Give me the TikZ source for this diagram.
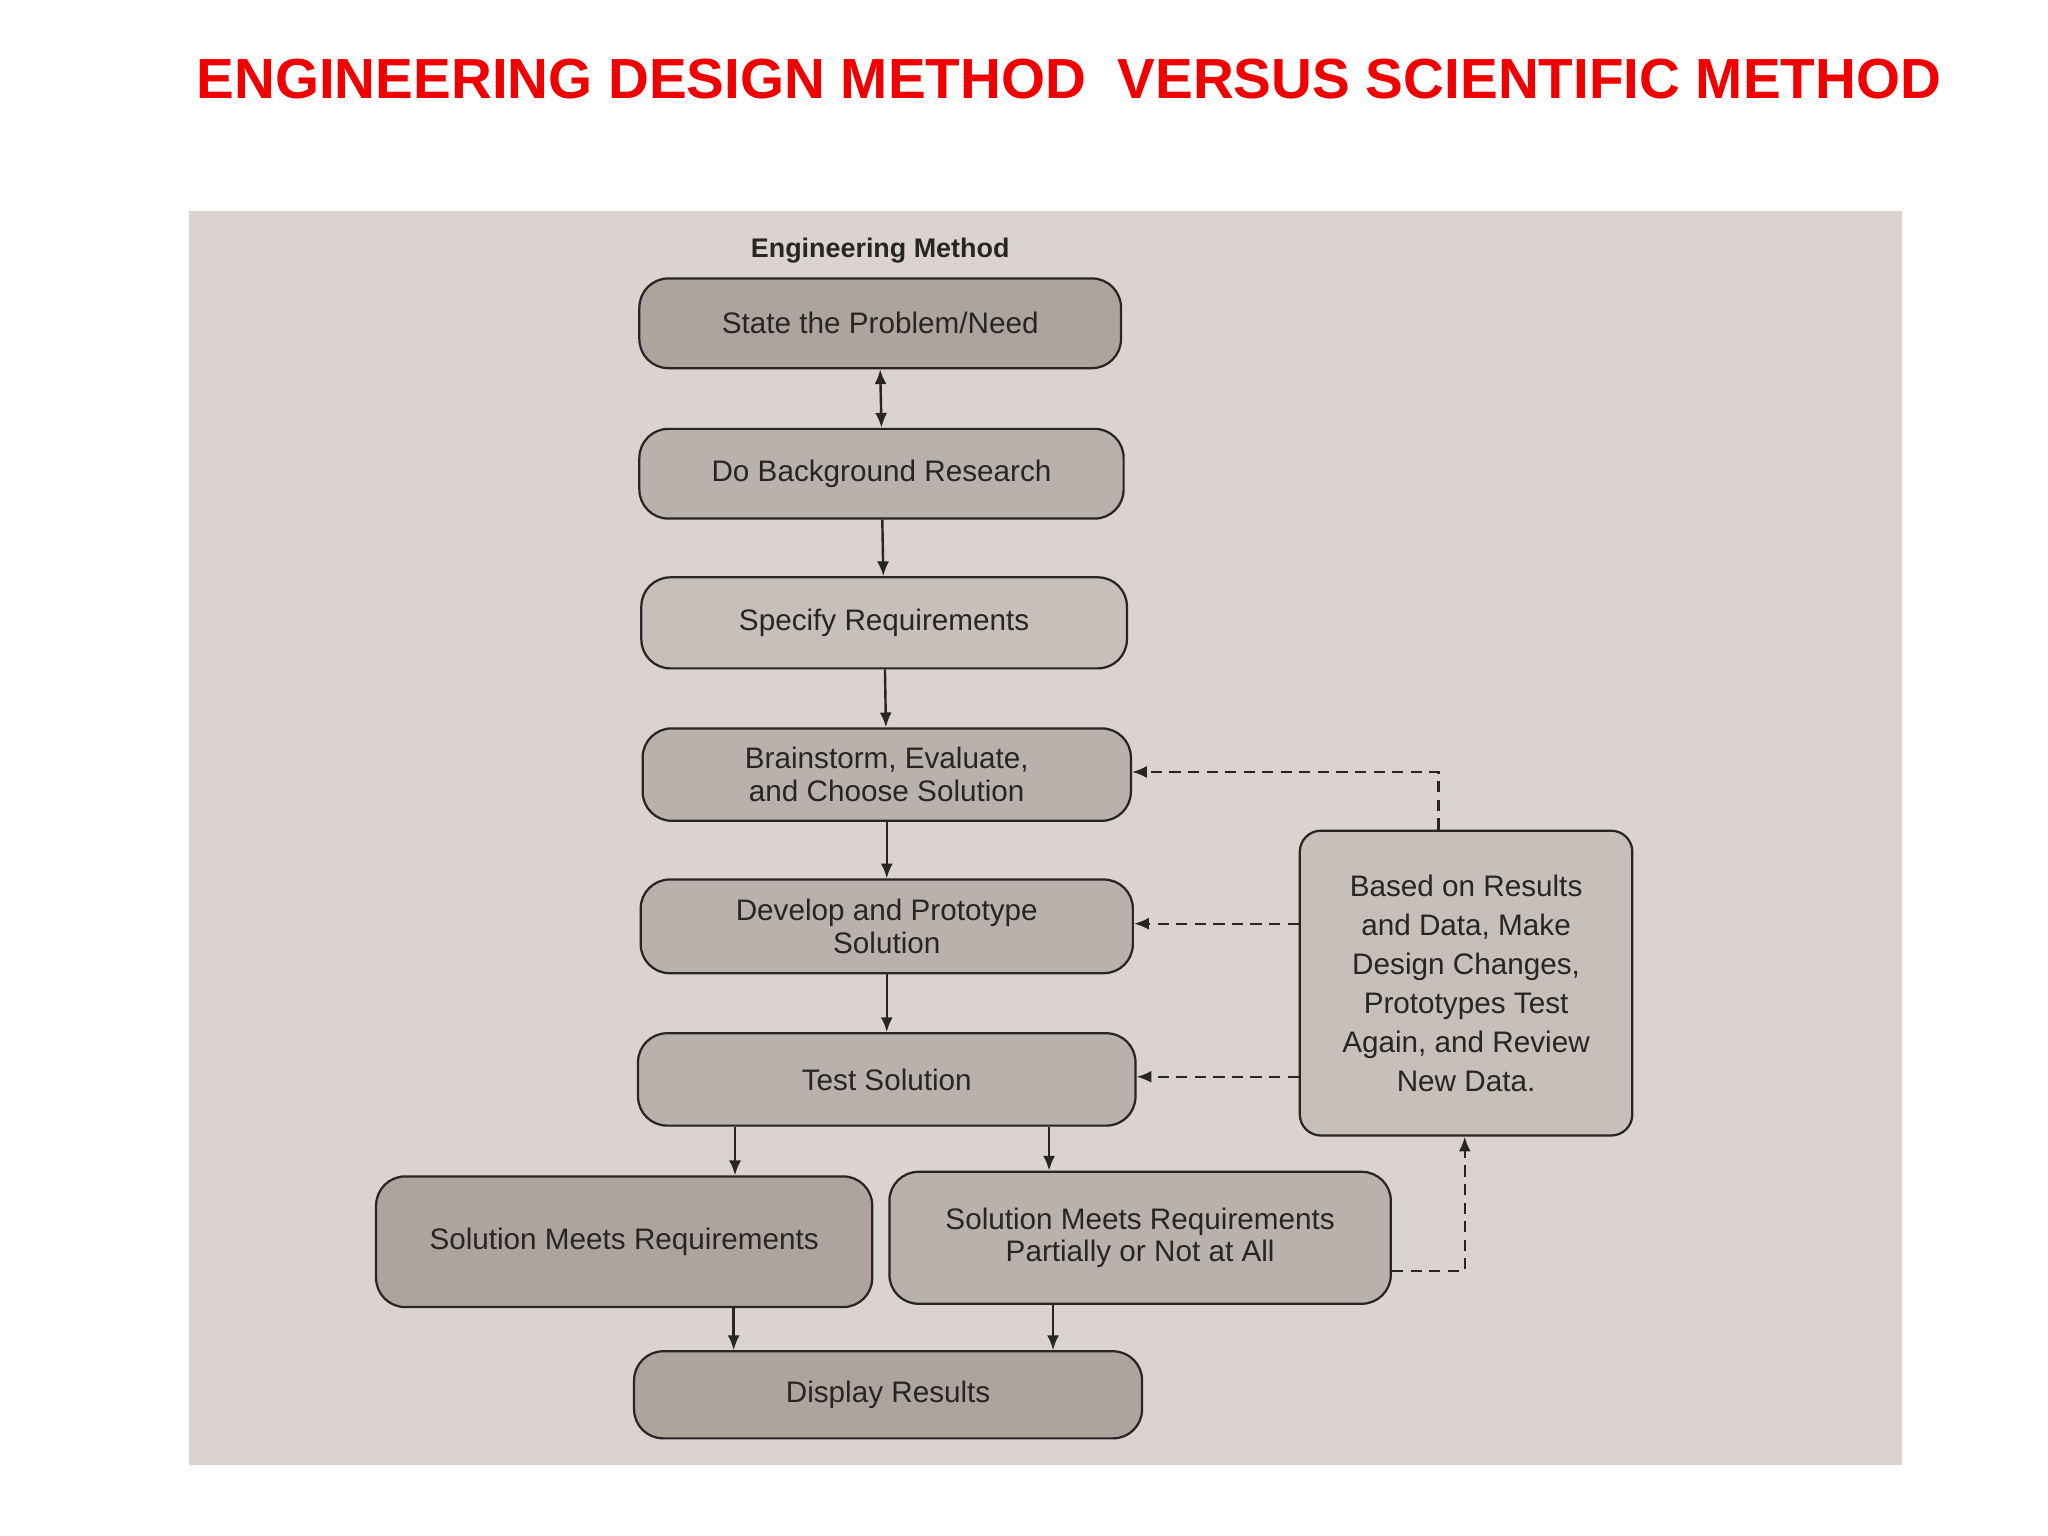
\documentclass[tikz,border=0pt]{standalone}
\usepackage{fontspec}
\setmainfont{Liberation Sans}
\usetikzlibrary{arrows.meta}
\definecolor{bg}{HTML}{DAD3CF}
\definecolor{boxd}{HTML}{ADA49E}
\definecolor{boxm}{HTML}{B9B1AB}
\definecolor{boxl}{HTML}{C6BFBA}
\definecolor{ttl}{HTML}{F00000}
\begin{document}
\begin{tikzpicture}[x=0.05cm,y=-0.05cm,
  bx/.style={draw=black!85,line width=2.4pt,rounded corners=1.1cm,fill=boxd,align=center,font=\fontsize{32}{35}\selectfont,text=black!85},
  ar/.style={-{Latex[length=16pt,width=13pt]},line width=2.6pt,black!85},
  da/.style={ar,dashed,dash pattern=on 12pt off 8pt}]
\useasboundingbox (0,0) rectangle (1552,1164);
\fill[white] (0,0) rectangle (1552,1164);
\fill[bg] (143,160) rectangle (1441,1110);
\node[text=ttl,font=\bfseries\fontsize{61}{64}\selectfont] (title) at (810,60) {ENGINEERING DESIGN METHOD\ \ VERSUS SCIENTIFIC METHOD};
\node[font=\bfseries\fontsize{29}{30}\selectfont,text=black!85] (hd) at (667,190) {Engineering Method};
\node[bx,minimum width=18.25cm,minimum height=3.4cm] (s1) at (667,245) {State the Problem/Need};
\node[bx,fill=boxm,minimum width=18.35cm,minimum height=3.4cm] (s2) at (668,359) {Do Background Research};
\node[bx,fill=boxl,minimum width=18.4cm,minimum height=3.45cm] (s3) at (670,472) {Specify Requirements};
\node[bx,fill=boxm,minimum width=18.5cm,minimum height=3.5cm] (s4) at (672,587) {Brainstorm, Evaluate,\\and Choose Solution};
\node[bx,fill=boxm,minimum width=18.65cm,minimum height=3.55cm] (s5) at (672,702) {Develop and Prototype\\Solution};
\node[bx,fill=boxm,minimum width=18.85cm,minimum height=3.5cm] (s6) at (672,818) {Test Solution};
\node[bx,minimum width=18.8cm,minimum height=4.95cm] (s7) at (473,941) {Solution Meets Requirements};
\node[bx,fill=boxm,minimum width=19cm,minimum height=5cm] (s8) at (864,938) {Solution Meets Requirements\\Partially or Not at All};
\node[bx,minimum width=19.25cm,minimum height=3.3cm] (s9) at (673,1057) {Display Results};
\node[bx,fill=boxl,rounded corners=0.8cm,minimum width=12.6cm,minimum height=11.55cm,font=\fontsize{32}{42}\selectfont] (rv) at (1111,745) {Based on Results\\and Data, Make\\Design Changes,\\Prototypes Test\\Again, and Review\\New Data.};
\draw[ar,{Latex[length=16pt,width=13pt]}-{Latex[length=16pt,width=13pt]}] (s1.south) -- (s2.north);
\draw[ar] (s2) -- (s3);
\draw[ar] (s3) -- (s4);
\draw[ar] (s4) -- (s5);
\draw[ar] (s5) -- (s6);
\draw[ar] (s6.south -| 557,0) -- (s7.north -| 557,0);
\draw[ar] (s6.south -| 795,0) -- (s8.north -| 795,0);
\draw[ar] (s7.south -| 556,0) -- (s9.north -| 556,0);
\draw[ar] (s8.south -| 798,0) -- (s9.north -| 798,0);
\draw[da] (s8.east |- 0,963) -- (1110,963) -- (rv.south -| 1110,0);
\draw[da] (rv.north -| 1090,0) -- (1090,585) -- (s4.east |- 0,585);
\draw[da] (rv.west |- 0,700) -- (s5.east |- 0,700);
\draw[da] (rv.west |- 0,816) -- (s6.east |- 0,816);
\end{tikzpicture}
\end{document}
